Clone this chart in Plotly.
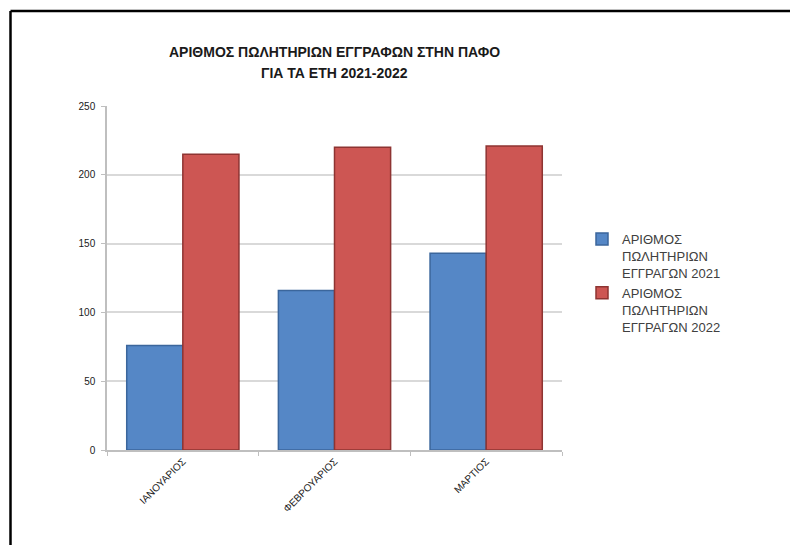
import plotly.graph_objects as go

# Monthly registrations of sales outlets in Paphos
months = ["ΙΑΝΟΥΑΡΙΟΣ", "ΦΕΒΡΟΥΑΡΙΟΣ", "ΜΑΡΤΙΟΣ"]
reg_2021 = [76, 116, 143]
reg_2022 = [215, 220, 221]
series_names = [
    "ΑΡΙΘΜΟΣ<br>ΠΩΛΗΤΗΡΙΩΝ<br>ΕΓΓΡΑΓΩΝ 2021",
    "ΑΡΙΘΜΟΣ<br>ΠΩΛΗΤΗΡΙΩΝ<br>ΕΓΓΡΑΓΩΝ 2022",
]
y_ticks = [0, 50, 100, 150, 200, 250]

W, H = 790, 545
ML, MR, MT, MB = 107, 228, 106, 95
PW, PH = W - ML - MR, H - MT - MB


def px_x(x):
    return (x - ML) / PW


def px_y(y):
    return (H - MB - y) / PH


fig = go.Figure()
fig.add_trace(go.Bar(
    x=months, y=reg_2021, name=series_names[0],
    marker=dict(color="#5587C6", line=dict(color="#3B669C", width=1.5)),
))
fig.add_trace(go.Bar(
    x=months, y=reg_2022, name=series_names[1],
    marker=dict(color="#CD5653", line=dict(color="#8E3432", width=1.5)),
))

title_font = dict(family="Liberation Sans", size=14, color="#1a1a1a")
annotations = [
    dict(text="<b>ΑΡΙΘΜΟΣ ΠΩΛΗΤΗΡΙΩΝ ΕΓΓΡΑΦΩΝ ΣΤΗΝ ΠΑΦΟ</b>", x=0.5, y=px_y(52),
         xref="paper", yref="paper", showarrow=False, font=title_font,
         xanchor="center", yanchor="middle"),
    dict(text="<b>ΓΙΑ ΤΑ ΕΤΗ 2021-2022</b>", x=0.5, y=px_y(73),
         xref="paper", yref="paper", showarrow=False, font=title_font,
         xanchor="center", yanchor="middle"),
]

# Frame on the left and top edges of the sheet
shapes = [
    dict(type="line", xref="paper", yref="paper",
         x0=px_x(10.5), x1=px_x(W + 5), y0=px_y(11), y1=px_y(11),
         line=dict(color="#000000", width=2.5)),
    dict(type="line", xref="paper", yref="paper",
         x0=px_x(10.5), x1=px_x(10.5), y0=px_y(11), y1=px_y(H + 5),
         line=dict(color="#000000", width=2.5)),
]

tick_font = dict(family="Liberation Sans", size=10, color="#1a1a1a")

fig.update_layout(
    width=W, height=H,
    margin=dict(l=ML, r=MR, t=MT, b=MB),
    paper_bgcolor="white", plot_bgcolor="white",
    barmode="group", bargap=0.26, bargroupgap=0,
    annotations=annotations, shapes=shapes,
    legend=dict(
        x=px_x(582), y=px_y(224), xanchor="left", yanchor="top",
        valign="top", font=dict(family="Liberation Sans", size=13, color="#404040"),
        bgcolor="rgba(0,0,0,0)", tracegroupgap=0,
    ),
    xaxis=dict(
        showgrid=False, showline=True, linecolor="#BFBFBF", linewidth=1.5,
        ticks="outside", tickson="boundaries", ticklen=4, tickcolor="#BFBFBF",
        tickangle=-45, tickfont=tick_font,
    ),
    yaxis=dict(
        range=[0, 250], tickvals=y_ticks, showgrid=True, gridcolor="#D9D9D9", gridwidth=1.5,
        showline=True, linecolor="#BFBFBF", linewidth=1.5, zeroline=False,
        ticks="outside", ticklen=4, tickcolor="#BFBFBF", tickfont=tick_font,
        ticklabelstandoff=4,
    ),
)

fig.write_html("out.html")
